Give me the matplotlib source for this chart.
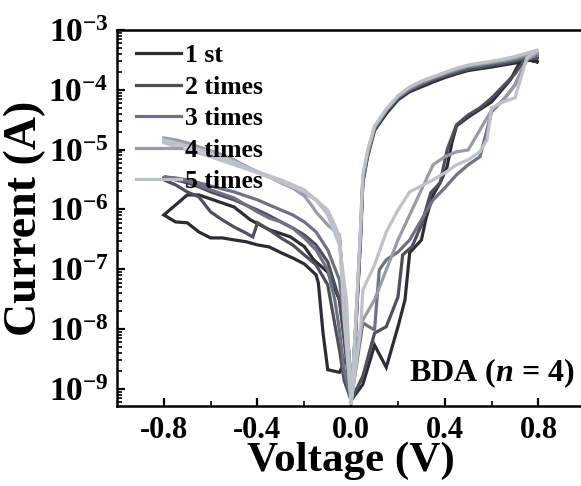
import matplotlib
matplotlib.use("Agg")
import matplotlib.pyplot as plt
from matplotlib.ticker import FixedLocator, LogLocator, NullFormatter

plt.rcParams['font.family'] = ['Liberation Serif', 'DejaVu Serif']
plt.rcParams['font.weight'] = 'bold'
plt.rcParams['axes.unicode_minus'] = False
plt.rcParams['mathtext.fontset'] = 'custom'
plt.rcParams['mathtext.rm'] = 'Liberation Serif:bold'
plt.rcParams['mathtext.bf'] = 'Liberation Serif:bold'
plt.rcParams['mathtext.it'] = 'Liberation Serif:bold:italic'

labels = ['1 st', '2 times', '3 times', '4 times', '5 times']
colors = ['#2c2c35', '#4e4f5c', '#6e7283', '#979ca7', '#bcc2c8']

# common voltage steps of the LRS branch (0.8 V -> 0 V)
v_up = [0.8, 0.75, 0.7, 0.65, 0.6, 0.55, 0.5, 0.45, 0.4, 0.35, 0.3, 0.25,
        0.2, 0.15, 0.1, 0.07, 0.05, 0.04, 0.02, 0.0]

# ---- 1 st ----
v1_set = [0, 0.05, 0.1, 0.15, 0.2, 0.23, 0.25, 0.3, 0.32, 0.35, 0.38, 0.41,
          0.43, 0.45, 0.5, 0.6, 0.68, 0.73, 0.8]
i1_set = [6.5e-10, 1.2e-9, 5.4e-9, 2.3e-9, 1.1e-8, 3.1e-8, 1.9e-7, 3.1e-7,
          7.2e-7, 1.75e-6, 2.8e-6, 5.2e-6, 1.3e-5, 2.5e-5, 3.5e-5, 6.3e-5,
          1.47e-4, 3.4e-4, 2.9e-4]
i1_up = [2.9e-4, 3.2e-4, 2.8e-4, 2.6e-4, 2.4e-4, 2.25e-4, 2.1e-4, 1.85e-4,
         1.6e-4, 1.35e-4, 1.12e-4, 9.3e-5, 6.8e-5, 4.0e-5, 2.1e-5, 7.6e-6,
         2.8e-6, 3.1e-7, 9.7e-9, 6.5e-10]
v1_neg = [0, -0.025, -0.05, -0.1, -0.16, -0.2, -0.26, -0.35, -0.43, -0.5,
          -0.65, -0.7, -0.8]
i1_neg = [6.5e-10, 5.4e-9, 3.1e-8, 9.0e-8, 1.44e-7, 2.4e-7, 3.5e-7, 4.6e-7,
          6.7e-7, 1.1e-6, 1.75e-6, 1.75e-6, 8.1e-7]
v1_ret = [-0.8, -0.75, -0.7, -0.65, -0.6, -0.55, -0.5, -0.45, -0.4, -0.35,
          -0.3, -0.25, -0.2, -0.15, -0.14, -0.12, -0.1, -0.05, -0.03, -0.01, 0]
i1_ret = [8.1e-7, 6.2e-7, 6.0e-7, 4.2e-7, 3.35e-7, 3.35e-7, 3.1e-7, 2.9e-7,
          2.56e-7, 2.37e-7, 1.9e-7, 1.55e-7, 1.23e-7, 8.1e-8, 5.9e-8, 8.6e-9,
          2.1e-9, 1.9e-9, 2.7e-9, 4.5e-9, 6.5e-10]

# ---- 2 times ----
v2_set = [0, 0.05, 0.1, 0.15, 0.2, 0.22, 0.26, 0.3, 0.34, 0.38, 0.41, 0.45,
          0.5, 0.55, 0.6, 0.7, 0.75, 0.8]
i2_set = [6.5e-10, 1.65e-9, 8.6e-9, 1.1e-8, 3.45e-8, 1.74e-7, 2.4e-7, 5.5e-7,
          1.9e-6, 2.8e-6, 1.0e-5, 2.6e-5, 3.8e-5, 5.0e-5, 7.3e-5, 1.85e-4,
          3.6e-4, 3.4e-4]
i2_up = [3.4e-4, 3.4e-4, 3.0e-4, 2.75e-4, 2.55e-4, 2.35e-4, 2.2e-4, 1.95e-4,
         1.7e-4, 1.45e-4, 1.2e-4, 9.8e-5, 7.2e-5, 4.3e-5, 2.2e-5, 8.0e-6,
         3.0e-6, 3.5e-7, 1.1e-8, 6.5e-10]
v2_neg = [0, -0.03, -0.05, -0.1, -0.15, -0.2, -0.25, -0.3, -0.35, -0.4,
          -0.45, -0.5, -0.55, -0.6, -0.65, -0.7, -0.75, -0.8]
i2_neg = [6.5e-10, 6.6e-9, 3.1e-8, 1.33e-7, 2.56e-7, 3.76e-7, 4.9e-7, 6.2e-7,
          7.9e-7, 9.8e-7, 1.19e-6, 1.45e-6, 1.69e-6, 1.97e-6, 2.39e-6,
          2.79e-6, 3.13e-6, 3.37e-6]
v2_ret = [-0.8, -0.75, -0.7, -0.65, -0.6, -0.55, -0.5, -0.45, -0.42, -0.4,
          -0.35, -0.3, -0.25, -0.2, -0.15, -0.1, -0.05, -0.03, 0]
i2_ret = [3.13e-6, 2.58e-6, 1.97e-6, 1.62e-6, 9.1e-7, 6.7e-7, 5.1e-7, 4.06e-7,
          3.48e-7, 6.0e-7, 4.56e-7, 3.35e-7, 2.56e-7, 1.74e-7, 1.19e-7,
          5.5e-8, 4.5e-9, 1.4e-9, 6.5e-10]

# ---- 3 times ----
v3_set = [0, 0.05, 0.1, 0.12, 0.15, 0.2, 0.25, 0.3, 0.35, 0.4, 0.45, 0.5,
          0.55, 0.6, 0.65, 0.7, 0.75, 0.8]
i3_set = [6.5e-10, 1.27e-8, 9.7e-9, 9.8e-8, 1.44e-7, 1.95e-7, 3.1e-7, 6.7e-7,
          1.45e-6, 2.3e-6, 3.8e-6, 5.6e-6, 7.6e-6, 4.3e-5, 6.8e-5, 1.21e-4,
          3.18e-4, 3.85e-4]
i3_up = [3.85e-4, 3.6e-4, 3.2e-4, 2.95e-4, 2.75e-4, 2.55e-4, 2.4e-4, 2.1e-4,
         1.8e-4, 1.55e-4, 1.28e-4, 1.02e-4, 7.5e-5, 4.5e-5, 2.3e-5, 8.5e-6,
         3.2e-6, 4.0e-7, 1.2e-8, 6.5e-10]
v3_neg = [0, -0.03, -0.05, -0.1, -0.15, -0.2, -0.25, -0.3, -0.35, -0.4,
          -0.45, -0.5, -0.55, -0.6, -0.65, -0.7, -0.75, -0.8]
i3_neg = [6.5e-10, 1.43e-8, 6.65e-8, 2.11e-7, 4.22e-7, 6.21e-7, 8.13e-7,
          9.84e-7, 1.19e-6, 1.45e-6, 1.69e-6, 1.97e-6, 2.2e-6, 2.48e-6,
          2.79e-6, 3.13e-6, 3.37e-6, 3.51e-6]
v3_ret = [-0.8, -0.7, -0.6, -0.5, -0.45, -0.4, -0.35, -0.3, -0.25, -0.2,
          -0.15, -0.1, -0.07, -0.05, -0.03, 0]
i3_ret = [3.51e-6, 3.01e-6, 2.13e-6, 1.56e-6, 1.19e-6, 9.1e-7, 7.2e-7, 6.2e-7,
          4.9e-7, 3.35e-7, 2.11e-7, 9.8e-8, 3.1e-8, 9.7e-9, 2.1e-9, 6.5e-10]

# ---- 4 times ----
v4_set = [0, 0.03, 0.05, 0.1, 0.15, 0.2, 0.25, 0.3, 0.35, 0.4, 0.45, 0.5,
          0.55, 0.6, 0.65, 0.7, 0.75, 0.8]
i4_set = [6.5e-10, 6.6e-9, 1.43e-8, 3.1e-8, 9.8e-8, 3.1e-7, 8.1e-7, 2.13e-6,
          5.6e-6, 7.6e-6, 9.2e-6, 9.9e-6, 2.14e-5, 4.6e-5, 6.8e-5, 1.21e-4,
          3.18e-4, 4.3e-4]
i4_up = [4.3e-4, 3.9e-4, 3.4e-4, 3.1e-4, 2.9e-4, 2.7e-4, 2.5e-4, 2.2e-4,
         1.9e-4, 1.6e-4, 1.35e-4, 1.08e-4, 7.8e-5, 4.6e-5, 2.4e-5, 9.0e-6,
         3.5e-6, 4.5e-7, 1.3e-8, 6.5e-10]
v4_neg = [0, -0.02, -0.05, -0.1, -0.15, -0.2, -0.25, -0.3, -0.35, -0.4,
          -0.45, -0.5, -0.55, -0.6, -0.65, -0.7, -0.75, -0.8]
i4_neg = [6.5e-10, 9.7e-9, 3.48e-7, 9.1e-7, 1.45e-6, 1.9e-6, 2.3e-6, 2.79e-6,
          3.51e-6, 4.25e-6, 5.3e-6, 6.75e-6, 8.2e-6, 9.6e-6, 1.11e-5, 1.3e-5,
          1.46e-5, 1.57e-5]
v4_ret = [-0.8, -0.7, -0.6, -0.5, -0.4, -0.3, -0.25, -0.2, -0.17, -0.15,
          -0.1, -0.05, -0.03, 0]
i4_ret = [1.46e-5, 1.16e-5, 8.8e-6, 6.25e-6, 4.25e-6, 2.9e-6, 2.3e-6, 1.69e-6,
          1.19e-6, 9.1e-7, 5.5e-7, 3.76e-7, 3.1e-8, 6.5e-10]

# ---- 5 times ----
v5_set = [0, 0.04, 0.05, 0.1, 0.15, 0.2, 0.25, 0.3, 0.35, 0.4, 0.45, 0.5,
          0.55, 0.58, 0.6, 0.65, 0.7, 0.75, 0.8]
i5_set = [5.8e-10, 9.7e-9, 4.5e-8, 1.19e-7, 4.2e-7, 9.8e-7, 1.97e-6, 2.48e-6,
          3.13e-6, 4.09e-6, 5.6e-6, 6.75e-6, 9.2e-6, 1.46e-5, 5.0e-5, 6.3e-5,
          7.35e-5, 3.43e-4, 4.67e-4]
i5_up = [4.67e-4, 4.1e-4, 3.6e-4, 3.25e-4, 3.0e-4, 2.8e-4, 2.6e-4, 2.3e-4,
         1.95e-4, 1.65e-4, 1.4e-4, 1.12e-4, 8.0e-5, 4.8e-5, 2.5e-5, 9.5e-6,
         3.8e-6, 5.0e-7, 1.4e-8, 5.8e-10]
v5_neg = [0, -0.02, -0.05, -0.1, -0.15, -0.2, -0.3, -0.4, -0.5, -0.6, -0.7, -0.8]
i5_neg = [5.8e-10, 3.1e-8, 2.56e-7, 8.1e-7, 1.45e-6, 2.13e-6, 3.13e-6, 4.25e-6,
          6.25e-6, 8.8e-6, 1.16e-5, 1.46e-5]
v5_ret = [-0.8, -0.7, -0.6, -0.5, -0.4, -0.3, -0.2, -0.15, -0.1, -0.07,
          -0.05, -0.03, 0]
i5_ret = [1.3e-5, 9.9e-6, 7.6e-6, 5.6e-6, 4.1e-6, 2.9e-6, 1.97e-6, 1.45e-6,
          9.8e-7, 5.5e-7, 3.5e-7, 1.43e-8, 5.8e-10]

curves = [
    (v1_set, i1_set, i1_up, v1_neg, i1_neg, v1_ret, i1_ret),
    (v2_set, i2_set, i2_up, v2_neg, i2_neg, v2_ret, i2_ret),
    (v3_set, i3_set, i3_up, v3_neg, i3_neg, v3_ret, i3_ret),
    (v4_set, i4_set, i4_up, v4_neg, i4_neg, v4_ret, i4_ret),
    (v5_set, i5_set, i5_up, v5_neg, i5_neg, v5_ret, i5_ret),
]

fig = plt.figure(figsize=(5.81, 4.86), dpi=100)
ax = fig.add_axes([0.2014, 0.1646, 0.806, 0.7737])

for (vs, is_, iu, vn, in_, vr, ir), lab, c in zip(curves, labels, colors):
    v = list(vs) + v_up + vn + vr
    i = list(is_) + iu + in_ + ir
    ax.plot(v, i, color=c, lw=2.3, label=lab, solid_joinstyle='miter')

ax.set_yscale('log')
ax.set_xlim(-1.0, 1.0)
ax.set_ylim(5.2e-10, 1e-3)

ax.xaxis.set_major_locator(FixedLocator([-0.8, -0.4, 0.0, 0.4, 0.8]))
ax.xaxis.set_minor_locator(FixedLocator([-0.6, -0.2, 0.2, 0.6]))
ax.set_xticklabels(['-0.8', '-0.4', '0.0', '0.4', '0.8'])
yt = [1e-9, 1e-8, 1e-7, 1e-6, 1e-5, 1e-4, 1e-3]
ax.yaxis.set_major_locator(FixedLocator(yt))
ax.set_yticklabels([r'$10^{%d}$' % e for e in range(-9, -2)])
ax.yaxis.set_minor_locator(LogLocator(base=10, subs=range(2, 10), numticks=20))
ax.yaxis.set_minor_formatter(NullFormatter())

ax.tick_params(which='major', direction='in', length=6, width=1.6,
               pad=7, top=False, right=False)
ax.tick_params(axis='x', labelsize=22)
ax.tick_params(axis='y', labelsize=24, pad=6)
ax.tick_params(which='minor', direction='in', length=3.5, width=1.2,
               top=False, right=False)
for sp in ax.spines.values():
    sp.set_linewidth(1.8)

ax.set_xlabel('Voltage (V)', fontsize=31, fontweight='bold', labelpad=-2)
ax.set_ylabel('Current (A)', fontsize=33, fontweight='bold', labelpad=2)

ax.legend(loc='upper left', frameon=False, fontsize=18.5, handlelength=1.75,
          handletextpad=0.15, labelspacing=0.33, borderaxespad=0.3,
          bbox_to_anchor=(0.003, 1.01))

ax.text(0.978, 0.088, r'BDA ($n$ = 4)', transform=ax.transAxes,
        ha='right', va='center', fontsize=23, fontweight='bold')

fig.savefig('out.png', dpi=100, facecolor='white')
